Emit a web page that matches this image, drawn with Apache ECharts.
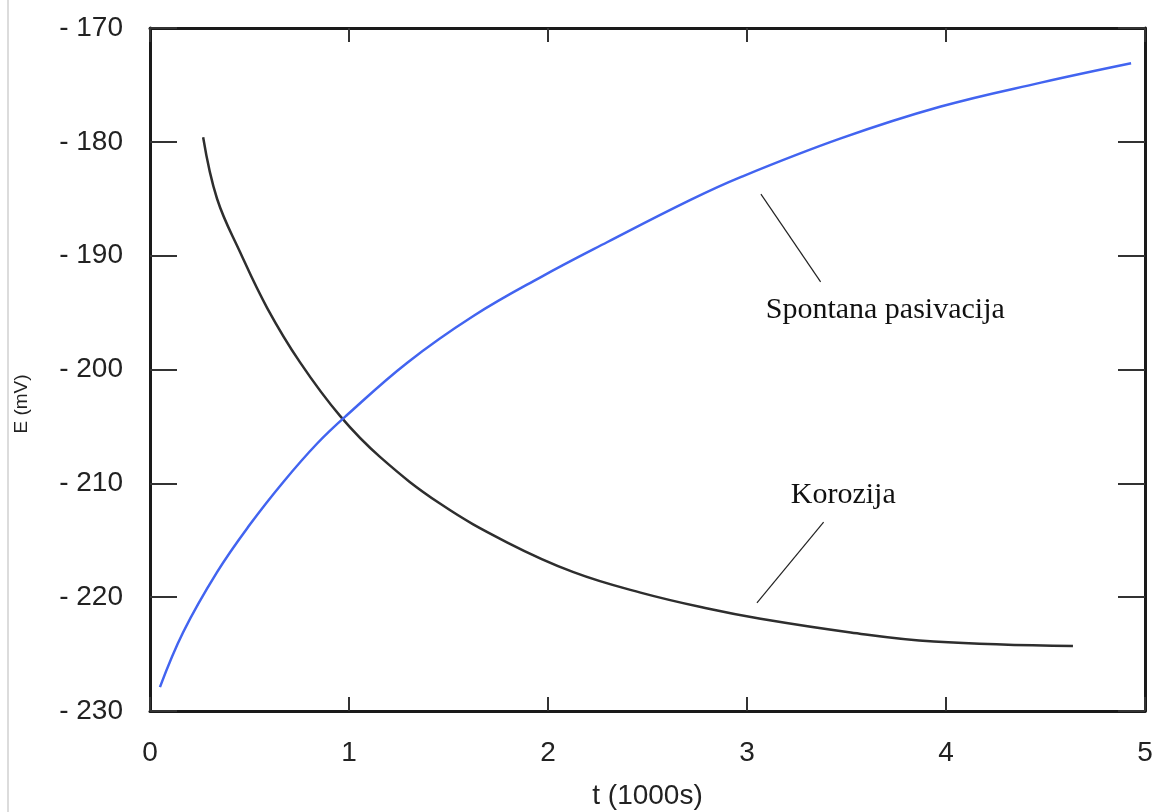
<!DOCTYPE html>
<html>
<head>
<meta charset="utf-8">
<script src="https://cdn.jsdelivr.net/npm/echarts@6/dist/echarts.min.js"></script>
<style>
html,body{margin:0;padding:0;background:#fff;}
#c{width:1168px;height:812px;}
</style>
</head>
<body>
<div id="c"></div>
<script>
// Spontana pasivacija (blue)
const tBlue = [0.05,0.166,0.337,0.503,0.669,0.84,0.99,1.293,1.625,1.962,2.299,2.716,2.968,3.471,3.974,4.477,4.93];
const eBlue = [-227.9,-223.1,-217.8,-213.6,-209.9,-206.5,-204.0,-199.4,-195.3,-191.9,-188.8,-185.1,-183.1,-179.7,-176.9,-174.8,-173.1];
// Korozija (black)
const tBlack = [0.267,0.337,0.453,0.589,0.755,0.956,1.157,1.459,1.796,2.128,2.465,2.802,3.068,3.521,3.939,4.638];
const eBlack = [-179.6,-185.0,-189.7,-194.6,-199.4,-204.1,-207.7,-211.8,-215.2,-217.8,-219.6,-221.0,-221.9,-223.1,-223.9,-224.3];
// axis ticks
const xTicks = [0,1,2,3,4,5];
const yTicks = [-230,-220,-210,-200,-190,-180,-170];
// annotation labels & pointer lines (data coords)
const labels = [
  {text:'Spontana pasivacija', t:3.094, e:-194.8},
  {text:'Korozija', t:3.22, e:-211.0}
];
const pointers = [
  [[3.07,-184.6],[3.37,-192.3]],
  [[3.385,-213.4],[3.05,-220.5]]
];

const chart = echarts.init(document.getElementById('c'), null, {renderer:'canvas'});
const axisCol = '#1a1a1a';
const tickFont = {fontFamily:'Liberation Sans, Arial, sans-serif', fontSize:28, color:'#222'};
const xAxisBase = {
  type:'value', min:xTicks[0], max:xTicks[xTicks.length-1], interval:1,
  axisLine:{show:true, onZero:false, lineStyle:{color:axisCol, width:3}},
  axisTick:{show:true, inside:true, length:14, lineStyle:{color:'#333', width:2}},
  splitLine:{show:false}
};
const yAxisBase = {
  type:'value', min:yTicks[0], max:yTicks[yTicks.length-1], interval:10,
  axisLine:{show:true, onZero:false, lineStyle:{color:axisCol, width:3}},
  axisTick:{show:true, inside:true, length:27, lineStyle:{color:'#333', width:2}},
  splitLine:{show:false}
};
const option = {
  backgroundColor:'#fff',
  animation:false,
  grid:{left:150, right:23, top:28, bottom:101, containLabel:false, outerBoundsMode:'none'},
  xAxis:[
    Object.assign({}, xAxisBase, {position:'bottom',
      axisLabel:Object.assign({margin:28, formatter:v=>String(v)}, tickFont),
      name:'t (1000s)', nameLocation:'middle', nameGap:71,
      nameTextStyle:{fontFamily:'Liberation Sans, Arial, sans-serif', fontSize:28, color:'#222'}}),
    Object.assign({}, xAxisBase, {position:'top', axisLabel:{show:false}})
  ],
  yAxis:[
    Object.assign({}, yAxisBase, {position:'left',
      axisLabel:Object.assign({margin:27, formatter:v=>'- '+Math.abs(v)}, tickFont)}),
    Object.assign({}, yAxisBase, {position:'right', axisLabel:{show:false}})
  ],
  series:[
    {type:'line', name:'Spontana pasivacija', smooth:0.4, showSymbol:false,
     lineStyle:{color:'#4264f0', width:2.5}, data:tBlue.map((t,i)=>[t,eBlue[i]]), z:3},
    {type:'line', name:'Korozija', smooth:0.4, showSymbol:false,
     lineStyle:{color:'#2e2e2e', width:2.5}, data:tBlack.map((t,i)=>[t,eBlack[i]]), z:2,
     markLine:{silent:true, symbol:'none', label:{show:false},
       lineStyle:{color:'#222', width:1.2, type:'solid'},
       data:pointers.map(p=>[{coord:p[0]},{coord:p[1]}])}}
  ]
};
chart.setOption(option);

const g = [
  {type:'line', shape:{x1:8, y1:0, x2:8, y2:812}, style:{stroke:'#dcdcdc', lineWidth:2}, silent:true},
  {type:'text', x:22, y:404, rotation:Math.PI/2, silent:true,
   style:{text:'E (mV)', fontFamily:'Liberation Sans, Arial, sans-serif', fontSize:19, fill:'#222',
     textAlign:'center', textVerticalAlign:'middle'}}
];
labels.forEach(l=>{
  const p = chart.convertToPixel({gridIndex:0}, [l.t, l.e]);
  g.push({type:'text', x:p[0], y:p[1], silent:true,
    style:{text:l.text, fontFamily:'Liberation Serif, Times New Roman, serif', fontSize:30,
      fill:'#111', textAlign:'left', textVerticalAlign:'middle'}});
});
chart.setOption({graphic:g});
</script>
</body>
</html>
